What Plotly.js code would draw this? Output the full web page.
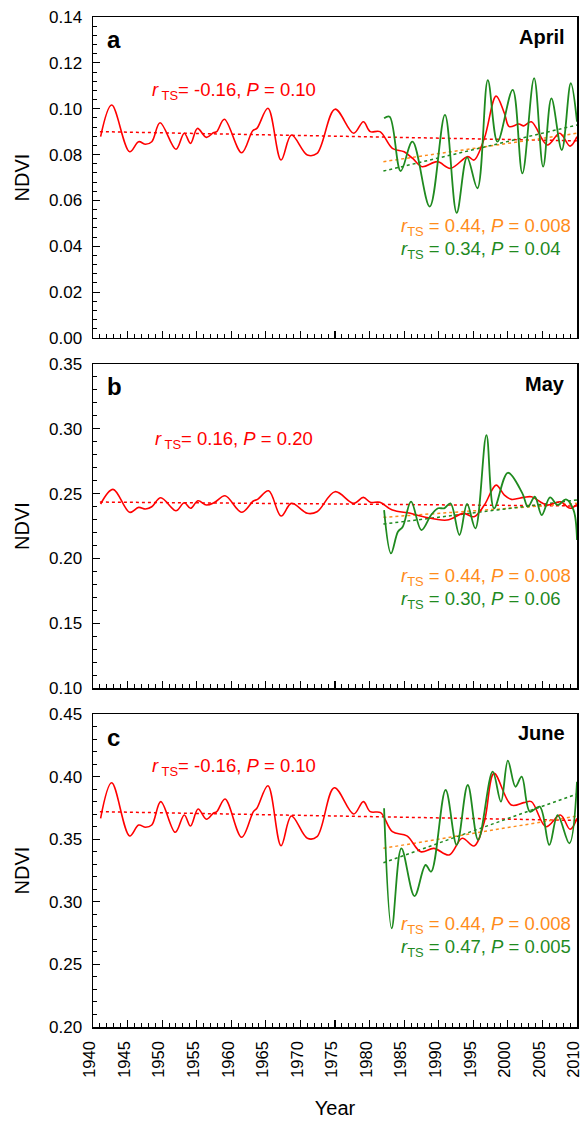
<!DOCTYPE html>
<html>
<head>
<meta charset="utf-8">
<script src="https://cdn.plot.ly/plotly-3.0.1.min.js"></script>
<style>
html,body{margin:0;padding:0;background:#fff;}
#chart{width:583px;height:1121px;}
</style>
</head>
<body>
<div id="chart"></div>
<script>
// ---------- Panel a: April ----------
const aprRedYear = [1941.1,1942.7,1945.3,1946.6,1947.6,1948.5,1949.7,1952.0,1953.2,1954.1,1955.1,1956.4,1957.4,1957.9,1959.0,1961.5,1963.1,1963.7,1965.3,1967.2,1968.7,1971.0,1972.4,1975.0,1977.7,1979.1,1980.1,1981.5,1983.3,1985.0,1986.2,1987.6,1989.8,1991.7,1994.2,1995.1,1996.6,1998.3,1999.5,2000.2,2001.6,2002.3,2003.4,2005.7,2007.5,2009.0,2010];
const aprRedNdvi = [0.0878,0.1016,0.0812,0.0856,0.0845,0.0856,0.0939,0.0823,0.0893,0.0849,0.0914,0.0875,0.0895,0.0900,0.0954,0.0808,0.0904,0.0914,0.1002,0.0776,0.0885,0.0798,0.0805,0.0998,0.0893,0.0943,0.0900,0.0900,0.0827,0.0812,0.0784,0.0747,0.0769,0.0740,0.0791,0.0776,0.0871,0.1055,0.0980,0.0922,0.0933,0.0925,0.0943,0.0842,0.0893,0.0837,0.0878];
const aprGreenYear = [1982.1,1982.9,1984.5,1986.2,1988.7,1990.9,1992.6,1994.1,1995.6,1997.1,1998.5,2000.7,2002.1,2003.8,2005.1,2006.3,2007.8,2009.1,2010];
const aprGreenNdvi = [0.0958,0.0965,0.0728,0.0856,0.0573,0.0973,0.0546,0.0788,0.0653,0.1125,0.0856,0.1082,0.0718,0.1133,0.0747,0.1045,0.0820,0.1111,0.0943];
const aprRedTrend = [0.0900,0.0860];
const aprOrangeTrend = [0.0769,0.0893];
const aprGreenTrend = [0.0728,0.0929];

// ---------- Panel b: May ----------
const mayRedYear = [1941.1,1942.9,1945.3,1946.6,1947.6,1948.5,1949.8,1952.0,1953.2,1954.1,1955.2,1956.4,1957.6,1959.1,1961.5,1963.2,1963.8,1965.4,1967.2,1968.7,1971.0,1972.4,1975.0,1977.7,1979.1,1980.1,1981.5,1983.3,1985.9,1987.8,1991.2,1993.6,1995.1,1996.6,1998.3,1999.5,2000.5,2002.3,2003.4,2005.7,2007.6,2009.0,2010];
const mayRedNdvi = [0.2420,0.2533,0.2356,0.2394,0.2381,0.2399,0.2468,0.2368,0.2430,0.2387,0.2445,0.2412,0.2433,0.2484,0.2356,0.2443,0.2456,0.2522,0.2327,0.2425,0.2348,0.2360,0.2515,0.2425,0.2471,0.2433,0.2433,0.2373,0.2348,0.2322,0.2296,0.2348,0.2322,0.2412,0.2566,0.2489,0.2456,0.2471,0.2476,0.2412,0.2437,0.2387,0.2417];
const mayGreenYear = [1982.1,1983.1,1984.1,1984.8,1986.0,1987.5,1988.9,1989.9,1990.8,1991.7,1993.0,1994.1,1995.3,1996.9,1998.0,2000.0,2002.1,2002.9,2003.9,2004.9,2006.1,2007.2,2008.4,2009.5,2010];
const mayGreenNdvi = [0.2373,0.2039,0.2206,0.2245,0.2438,0.2219,0.2335,0.2387,0.2387,0.2425,0.2181,0.2420,0.2232,0.2952,0.2387,0.2661,0.2502,0.2399,0.2476,0.2335,0.2471,0.2412,0.2456,0.2373,0.2142];
const mayRedTrend = [0.2435,0.2405];
const mayOrangeTrend = [0.2317,0.2425];
const mayGreenTrend = [0.2265,0.2451];

// ---------- Panel c: June ----------
const junRedYear = [1941.1,1942.7,1945.3,1946.6,1947.6,1948.5,1949.8,1951.9,1953.2,1954.1,1955.2,1956.4,1957.4,1957.9,1959.1,1961.5,1963.2,1963.7,1965.3,1967.2,1968.7,1971.0,1972.4,1974.9,1977.7,1979.1,1980.1,1981.6,1983.3,1985.4,1987.4,1989.3,1991.5,1993.4,1995.1,1996.6,1998.0,2000.5,2002.3,2003.4,2005.5,2007.6,2009.0,2010];
const junRedNdvi = [0.3667,0.3951,0.3526,0.3613,0.3595,0.3613,0.3800,0.3555,0.3693,0.3605,0.3741,0.3659,0.3707,0.3720,0.3821,0.3515,0.3720,0.3747,0.3927,0.3448,0.3685,0.3507,0.3520,0.3911,0.3701,0.3800,0.3720,0.3712,0.3560,0.3526,0.3400,0.3427,0.3374,0.3507,0.3446,0.3640,0.4026,0.3773,0.3792,0.3800,0.3600,0.3693,0.3579,0.3667];
const junGreenYear = [1982.1,1983.2,1984.6,1986.5,1988.1,1988.9,1991.0,1992.6,1994.2,1995.7,1997.8,1999.0,2000.0,2001.1,2002.0,2003.2,2004.6,2006.0,2007.2,2008.9,2010];
const junGreenNdvi = [0.3747,0.2788,0.3427,0.3046,0.3294,0.3240,0.3893,0.3454,0.3933,0.3494,0.4039,0.3800,0.4127,0.3919,0.3999,0.3720,0.3760,0.3454,0.3693,0.3467,0.3959];
const junRedTrend = [0.3720,0.3650];
const junOrangeTrend = [0.3427,0.3685];
const junGreenTrend = [0.3312,0.3861];

const fullSpan = [1941, 2010];
const lateSpan = [1982, 2010];
const xTickVals = [1940,1945,1950,1955,1960,1965,1970,1975,1980,1985,1990,1995,2000,2005,2010];
const xTickText = ['1940','1945','1950','1955','1960','1965','1970','1975','1980','1985','1990','1995','2000','2005','2010'];

const RED = '#ff0000', GREEN = '#1f8a1f', ORANGE = '#ff8c1a';
const FONT = 'Liberation Sans, Arial, sans-serif';

const panels = [
  {ax:'', redX:aprRedYear, redY:aprRedNdvi, grX:aprGreenYear, grY:aprGreenNdvi, rt:aprRedTrend, ot:aprOrangeTrend, gt:aprGreenTrend},
  {ax:'2', redX:mayRedYear, redY:mayRedNdvi, grX:mayGreenYear, grY:mayGreenNdvi, rt:mayRedTrend, ot:mayOrangeTrend, gt:mayGreenTrend},
  {ax:'3', redX:junRedYear, redY:junRedNdvi, grX:junGreenYear, grY:junGreenNdvi, rt:junRedTrend, ot:junOrangeTrend, gt:junGreenTrend}
];

const traces = [];
panels.forEach(p => {
  const xa = 'x' + p.ax, ya = 'y' + p.ax;
  traces.push({x:fullSpan, y:p.rt, xaxis:xa, yaxis:ya, mode:'lines', line:{color:RED, width:1.5, dash:'dot'}, hoverinfo:'skip'});
  traces.push({x:lateSpan, y:p.ot, xaxis:xa, yaxis:ya, mode:'lines', line:{color:ORANGE, width:1.5, dash:'dot'}, hoverinfo:'skip'});
  traces.push({x:lateSpan, y:p.gt, xaxis:xa, yaxis:ya, mode:'lines', line:{color:GREEN, width:1.5, dash:'dot'}, hoverinfo:'skip'});
  traces.push({x:p.redX, y:p.redY, xaxis:xa, yaxis:ya, mode:'lines', line:{color:RED, width:1.6, shape:'spline', smoothing:1}});
  traces.push({x:p.grX, y:p.grY, xaxis:xa, yaxis:ya, mode:'lines', line:{color:GREEN, width:1.8, shape:'spline', smoothing:1}});
});

function xAxis(anchor, showLabels) {
  return {
    anchor: anchor, domain:[0,1], range:[1940,2010], tickmode:'array', tickvals:xTickVals, ticktext:xTickText,
    ticks:'inside', ticklen:7, tickwidth:1.2, tickcolor:'#000',
    minor:{dtick:1, tick0:1940, ticks:'inside', ticklen:4, tickwidth:1, tickcolor:'#000'},
    showline:true, mirror:true, linecolor:'#000', linewidth:1.5,
    showgrid:false, zeroline:false, showticklabels:showLabels,
    tickangle:-90, ticklabelstandoff:6, ticklabeloverflow:'allow', ticklabelshift:-3,
    tickfont:{family:FONT, size:16.5, color:'#000'}
  };
}
function yAxis(anchor, domain, range, dtick, minorDtick) {
  return {
    anchor: anchor, domain: domain, range: range, dtick: dtick, tick0: range[0], tickformat:'.2f',
    ticks:'inside', ticklen:7, tickwidth:1.2, tickcolor:'#000',
    minor:{dtick:minorDtick, tick0:range[0], ticks:'inside', ticklen:4, tickwidth:1, tickcolor:'#000'},
    showline:true, mirror:true, linecolor:'#000', linewidth:1.5,
    showgrid:false, zeroline:false, ticklabelstandoff:6,
    tickfont:{family:FONT, size:17, color:'#000'},
    title:{text:'NDVI', font:{family:FONT, size:20, color:'#000'}, standoff:14}
  };
}

const layout = {
  width:583, height:1121,
  margin:{l:93, r:6, t:17, b:94},
  paper_bgcolor:'#fff', plot_bgcolor:'#fff',
  showlegend:false,
  font:{family:FONT, color:'#000'},
  xaxis: xAxis('y', false),
  xaxis2: xAxis('y2', false),
  xaxis3: Object.assign(xAxis('y3', true), {title:{text:'Year', font:{family:FONT, size:20, color:'#000'}, standoff:24}}),
  yaxis: yAxis('x', [0.6822,1.0], [0,0.14], 0.02, 0.004),
  yaxis2: yAxis('x2', [0.3356,0.6564], [0.10,0.35], 0.05, 0.01),
  yaxis3: yAxis('x3', [0,0.3099], [0.20,0.45], 0.05, 0.01),
  annotations: []
};

const notes = [
  {ax:'', letter:'a', month:'April', ly:0.1300, my:0.1313, red:'-0.16', redP:'0.10', ry:0.1077, oy:0.0485, gy:0.0385, g:'0.34', gP:'0.04'},
  {ax:'2', letter:'b', month:'May', ly:0.3323, my:0.3346, red:'0.16', redP:'0.20', ry:0.2914, oy:0.1857, gy:0.1679, g:'0.30', gP:'0.06'},
  {ax:'3', letter:'c', month:'June', ly:0.4316, my:0.4348, red:'-0.16', redP:'0.10', ry:0.4077, oy:0.2815, gy:0.2631, g:'0.47', gP:'0.005'}
];
notes.forEach(n => {
  const xr = 'x' + n.ax, yr = 'y' + n.ax;
  layout.annotations.push({xref:xr, yref:yr, x:1941.8, y:n.ly, xanchor:'left', yanchor:'middle', showarrow:false,
    text:'<b>'+n.letter+'</b>', font:{family:FONT, size:24, color:'#000'}});
  layout.annotations.push({xref:xr, yref:yr, x:2008.6, y:n.my, xanchor:'right', yanchor:'middle', showarrow:false,
    text:'<b>'+n.month+'</b>', font:{family:FONT, size:20, color:'#000'}});
  layout.annotations.push({xref:xr, yref:yr, x:1960.4, y:n.ry, xanchor:'center', yanchor:'middle', showarrow:false,
    text:'<i>r</i><sub> TS</sub>= '+n.red+', <i>P</i> = '+n.redP, font:{family:FONT, size:18.5, color:RED}});
  layout.annotations.push({xref:xr, yref:yr, x:1984.3, y:n.oy, xanchor:'left', yanchor:'middle', showarrow:false,
    text:'<i>r</i><sub>TS</sub> = 0.44, <i>P</i> = 0.008', font:{family:FONT, size:18.5, color:ORANGE}});
  layout.annotations.push({xref:xr, yref:yr, x:1984.3, y:n.gy, xanchor:'left', yanchor:'middle', showarrow:false,
    text:'<i>r</i><sub>TS</sub> = '+n.g+', <i>P</i> = '+n.gP, font:{family:FONT, size:18.5, color:GREEN}});
});

Plotly.newPlot('chart', traces, layout, {staticPlot:true, displayModeBar:false});
</script>
</body>
</html>
